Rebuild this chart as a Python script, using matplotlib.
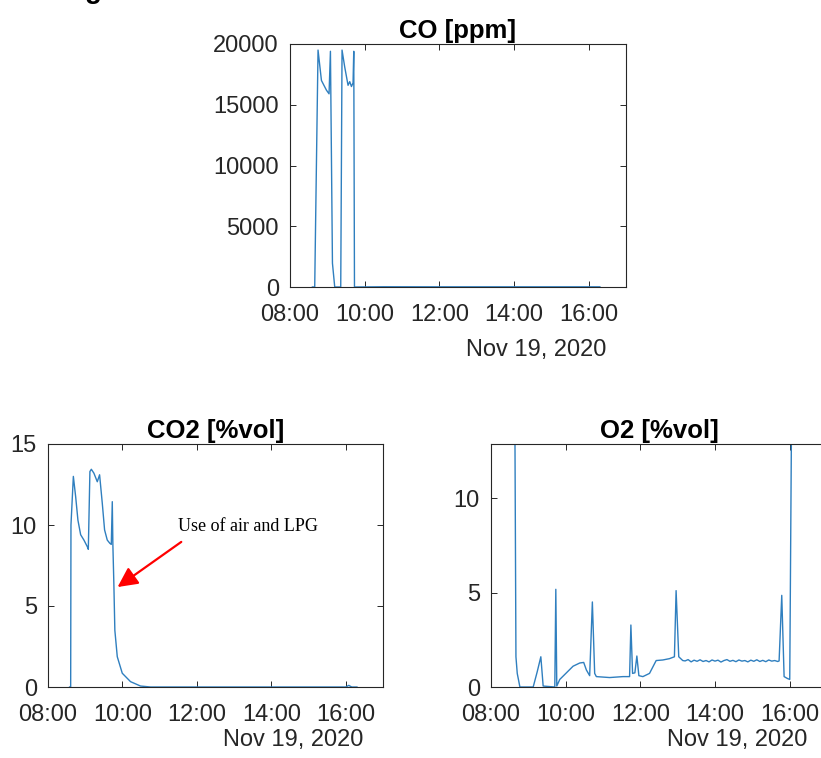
import numpy as np
import pandas as pd
import matplotlib
matplotlib.use("Agg")
import matplotlib.pyplot as plt
import matplotlib.dates as mdates

plt.rcParams['font.family'] = ['Liberation Sans', 'DejaVu Sans']

day = pd.Timestamp("2020-11-19")

# CO [ppm], time in decimal hours
co_t = [8.60, 8.662, 8.689, 8.751, 8.842, 8.976, 9.046, 9.083, 9.137, 9.198,
        9.359, 9.394, 9.466, 9.555, 9.600, 9.646, 9.689, 9.708, 9.727,
        10.5, 12.0, 14.0, 16.3]
co_v = [0, 0, 6000, 19500, 17000, 16200, 15900, 19400, 1960, 0,
        0, 19500, 18100, 16600, 16900, 16500, 16800, 19400, 0,
        20, 15, 15, 15]

# CO2 [%vol]
co2_t = [8.58, 8.609, 8.617, 8.681, 8.743, 8.804, 8.877, 8.965, 9.056, 9.083,
         9.126, 9.164, 9.233, 9.324, 9.386, 9.458, 9.520, 9.592, 9.662, 9.700,
         9.727, 9.743, 9.769, 9.796, 9.861, 9.995, 10.217, 10.485, 10.753,
         12.0, 14.0, 16.0, 16.08, 16.16, 16.3]
co2_v = [0, 0, 10.0, 13.0, 11.75, 10.3, 9.4, 9.07, 8.66, 8.5,
         13.3, 13.44, 13.2, 12.67, 13.1, 11.35, 9.7, 9.07, 8.87, 8.8,
         11.44, 8.77, 6.4, 3.5, 1.87, 0.85, 0.33, 0.06, 0.0,
         0.0, 0.0, 0.0, 0.1, 0.0, 0.0]

# O2 [%vol]
o2_t = [8.60, 8.623, 8.641, 8.668, 8.703, 8.774, 9.130, 9.237, 9.335, 9.397,
        9.709, 9.736, 9.762, 9.842, 10.020, 10.198, 10.377, 10.483, 10.555, 10.643,
        10.715, 10.777, 10.822, 11.178, 11.534, 11.712, 11.747, 11.792, 11.854, 11.907,
        11.961, 12.068, 12.246, 12.424, 12.602, 12.780, 12.913, 12.958, 13.029, 13.136,
        13.20, 13.28, 13.36, 13.44, 13.52, 13.60, 13.68, 13.76, 13.84, 13.92,
        14.00, 14.08, 14.16, 14.24, 14.32, 14.40, 14.48, 14.56, 14.64, 14.72,
        14.80, 14.88, 14.96, 15.04, 15.12, 15.20, 15.28, 15.36, 15.44, 15.52,
        15.60, 15.68, 15.717, 15.788, 15.851, 15.940, 16.002, 16.073, 16.10]
o2_v = [20.9, 20.9, 13.5, 1.6, 0.72, 0.0, 0.0, 0.8, 1.6, 0.05,
        0.0, 5.17, 0.05, 0.4, 0.75, 1.1, 1.27, 1.3, 0.9, 0.6,
        4.5, 0.72, 0.55, 0.5, 0.55, 0.55, 3.28, 0.72, 0.75, 1.64,
        0.6, 0.55, 0.72, 1.4, 1.43, 1.5, 1.6, 5.1, 1.6, 1.4,
        1.38, 1.45, 1.33, 1.42, 1.36, 1.44, 1.35, 1.40, 1.33, 1.43,
        1.37, 1.42, 1.32, 1.40, 1.45, 1.36, 1.41, 1.34, 1.43, 1.37,
        1.40, 1.33, 1.42, 1.36, 1.44, 1.35, 1.41, 1.34, 1.43, 1.37,
        1.40, 1.35, 1.38, 4.85, 0.55, 0.45, 0.4, 20.9, 20.9]


def to_time(hours):
    return day + pd.to_timedelta(np.array(hours), unit='h')


line_color = '#2f7fbf'
ink = '#262626'
W, H = 821, 758

fig = plt.figure(figsize=(W / 100, H / 100), dpi=100)


def make_axes(left, top, right, bottom):
    return fig.add_axes([left / W, 1 - bottom / H, (right - left) / W, (bottom - top) / H])


def style(ax, title, ylim, yticks, date_dy):
    ax.set_xlim(day + pd.Timedelta(hours=8), day + pd.Timedelta(hours=17))
    ax.set_ylim(*ylim)
    ax.set_yticks(yticks)
    ax.xaxis.set_major_locator(mdates.HourLocator(byhour=[8, 10, 12, 14, 16]))
    ax.xaxis.set_major_formatter(mdates.DateFormatter('%H:%M'))
    ax.tick_params(direction='in', length=4, width=0.7, top=True, right=True,
                   labelsize=17, colors=ink)
    ax.tick_params(axis='x', pad=12)
    ax.tick_params(axis='y', pad=8)
    for s in ax.spines.values():
        s.set_color(ink)
        s.set_linewidth(0.8)
    ax.set_title(title, fontsize=18.5, fontweight='bold', pad=4)
    ax.annotate('Nov 19, 2020', xy=(1, 0), xycoords='axes fraction',
                xytext=(-20, -date_dy), textcoords='offset pixels',
                ha='right', va='center', fontsize=17, color=ink)


ax_co = make_axes(290, 44, 626, 287)
ax_co.plot(to_time(co_t), co_v, color=line_color, lw=1.0)
style(ax_co, 'CO [ppm]', (0, 20000), [0, 5000, 10000, 15000, 20000], 63)

ax_co2 = make_axes(48, 444, 383, 687)
ax_co2.plot(to_time(co2_t), co2_v, color=line_color, lw=1.0)
style(ax_co2, 'CO2 [%vol]', (0, 15), [0, 5, 10, 15], 53)
ax_co2.annotate('Use of air and LPG',
                xy=(to_time([9.869])[0], 6.17), xytext=(to_time([13.38])[0], 9.9),
                ha='center', va='center', fontsize=13, family='Liberation Serif',
                arrowprops=dict(arrowstyle='-|>', color='red', lw=1.6,
                                mutation_scale=30, shrinkA=5, shrinkB=0,
                                relpos=(0.09, 0)))

ax_o2 = make_axes(491, 444, 827, 687)
ax_o2.plot(to_time(o2_t), o2_v, color=line_color, lw=1.0)
style(ax_o2, 'O2 [%vol]', (0, 12.86), [0, 5, 10], 53)

# cut-off caption remnants along the top edge
fig.text(93 / W, 1 + 2 / H, 'g', fontsize=20, fontweight='bold', ha='center', va='baseline')
fig.text(503 / W, 1 + 2 / H, '_', fontsize=14, fontweight='bold', ha='center', va='baseline')

fig.savefig('out.png', dpi=100)
